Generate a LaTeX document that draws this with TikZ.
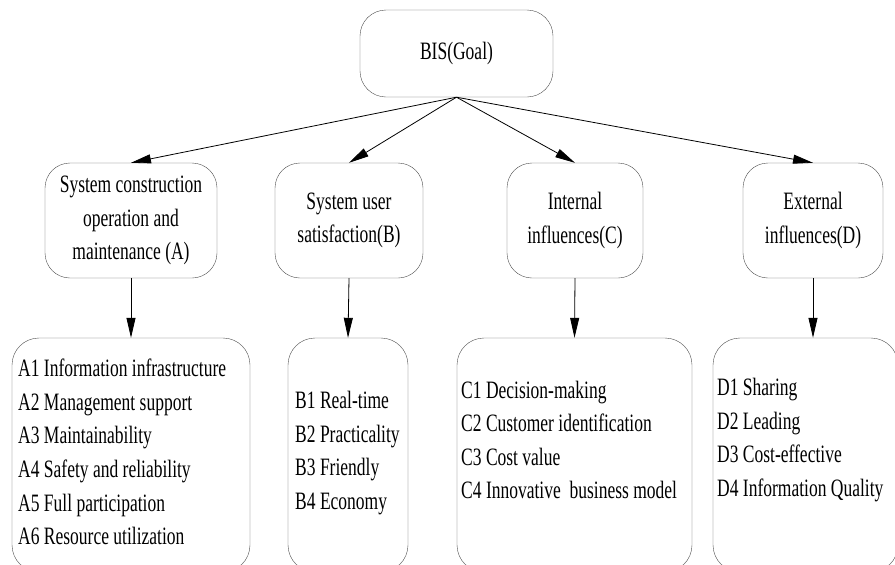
\documentclass[tikz,border=0pt]{standalone}
\usepackage{fontspec}
\setmainfont[FakeStretch=0.70]{Liberation Serif}
\usetikzlibrary{arrows.meta,positioning}

\newcommand{\diagfont}{\fontsize{25}{33.6}\selectfont}

\begin{document}
\begin{tikzpicture}[
    x=1pt,y=-1pt,
    goal/.style={
      draw=black!70,
      rounded corners=26pt,
      minimum width=193pt,
      minimum height=87pt,
      font=\diagfont
    },
    crit/.style={
      draw=black!70,
      rounded corners=25pt,
      minimum height=115pt,
      align=center,
      inner sep=0pt,
      font=\diagfont
    },
    items/.style={
      draw=black!70,
      rounded corners=27pt,
      minimum height=234pt
    },
    itemtext/.style={
      align=left,
      inner sep=0pt,
      anchor=west,
      font=\diagfont
    },
    arr/.style={-{Triangle[length=20pt,width=9pt]},line width=0.8pt}
    ]
    \useasboundingbox (0,0) rectangle (895,565);
    \clip (0,0) rectangle (895,565);

    % goal
    \node[goal] (bis) at (456.5,53.5) {BIS(Goal)};

    % criteria
    \node[crit,minimum width=172pt] (A) at (131,220.5)
      {System construction\\operation and\\maintenance (A)};
    \node[crit,minimum width=148pt] (B) at (349,220.5)
      {System user\\satisfaction(B)};
    \node[crit,minimum width=136pt] (C) at (575,220.5)
      {Internal\\influences(C)};
    \node[crit,minimum width=140pt] (D) at (813,220.5)
      {External\\influences(D)};

    % sub-criteria boxes
    \node[items,minimum width=238pt] (Alist) at (131,455) {};
    \node[items,minimum width=120pt] (Blist) at (348,455) {};
    \node[items,minimum width=235pt] (Clist) at (574.5,455) {};
    \node[items,minimum width=185pt] (Dlist) at (805.5,455) {};

    \node[itemtext] (Atext) at (18,452)
      {A1 Information infrastructure\\A2 Management support\\A3 Maintainability\\
       A4 Safety and reliability\\A5 Full participation\\A6 Resource utilization};
    \node[itemtext] (Btext) at (295,453)
      {B1 Real-time\\B2 Practicality\\B3 Friendly\\B4 Economy};
    \node[itemtext] (Ctext) at (461,440)
      {C1 Decision-making\\C2 Customer identification\\C3 Cost value\\
       C4 Innovative\ \ business model};
    \node[itemtext] (Dtext) at (717,440)
      {D1 Sharing\\D2 Leading\\D3 Cost-effective\\D4 Information Quality};

    \foreach \c in {A,B,C,D}
      \draw[arr] (bis.south) -- (\c.north);
    \draw[arr] (A.south) -- (Alist.north);
    \draw[arr] (B.south) -- (Blist.north);
    \draw[arr] (C.south) -- (Clist.north);
    \draw[arr] (D.south) -- (D.south|-Dlist.north);
\end{tikzpicture}
\end{document}
